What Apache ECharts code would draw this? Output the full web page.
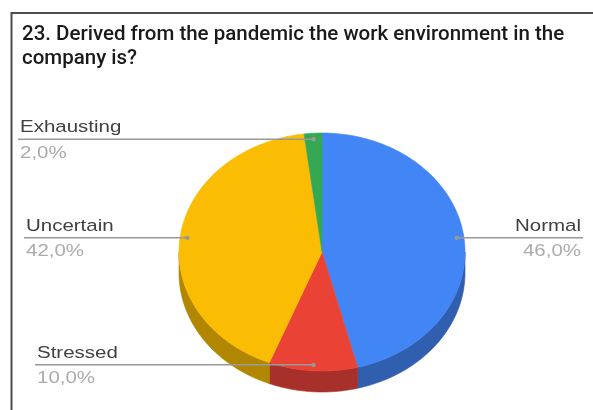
<!DOCTYPE html>
<html>
<head>
<meta charset="utf-8">
<script src="https://cdn.jsdelivr.net/npm/echarts@6/dist/echarts.min.js"></script>
<style>
  html, body { margin: 0; padding: 0; background: #fff; }
  #chart { width: 593px; height: 410px; }
</style>
</head>
<body>
<div id="chart"></div>
<script>
// Survey answers, in drawing order (clockwise from 12 o'clock)
const categories = ['Normal', 'Stressed', 'Uncertain', 'Exhausting'];
const shares = [46, 10, 42, 2];
const faceColors = ['#4285F4', '#EA4335', '#FBBC04', '#34A853'];
const sideColors = ['#2f5fae', '#a7312a', '#b18600', '#267a3c'];
const titleText = '23. Derived from the pandemic the work environment in the\ncompany is?';

// Tilted disc: centre, horizontal / vertical radius, wall height
const disc = { cx: 322, cy: 252, rx: 143, ry: 119, depth: 21 };
// Label text edges: left-hand labels start here, right-hand labels end here
const labelEdge = { Normal: 581, Stressed: 37, Uncertain: 26, Exhausting: 20 };
const labelFont = '"Liberation Sans", Arial, sans-serif';
const titleFont = 'Roboto, "Liberation Sans", Arial, sans-serif';

const total = shares.reduce((a, b) => a + b, 0);
const slices = [];
let acc = 0;
shares.forEach(v => {
  const a0 = acc / total * 2 * Math.PI;
  acc += v;
  slices.push({ a0, a1: acc / total * 2 * Math.PI });
});

// angle t measured clockwise from 12 o'clock
function pt(t, k, dy) {
  return [disc.cx + disc.rx * k * Math.sin(t), disc.cy - disc.ry * k * Math.cos(t) + (dy || 0)];
}
function arc(s, e, dy) {
  const n = Math.max(2, Math.ceil((e - s) / (Math.PI / 180)));
  const out = [];
  for (let j = 0; j <= n; j++) out.push(pt(s + (e - s) * j / n, 1, dy));
  return out;
}

function renderSlice(params, api) {
  const i = params.dataIndex;
  const { a0, a1 } = slices[i];
  const name = categories[i];
  const children = [];

  // visible front wall of the slice
  const s = Math.max(a0, Math.PI / 2), e = Math.min(a1, 1.5 * Math.PI);
  if (e > s) {
    const top = arc(s, e, 0);
    const bottom = arc(s, e, disc.depth).reverse();
    children.push({
      type: 'polygon', z2: 1,
      shape: { points: top.concat(bottom) },
      style: { fill: sideColors[i], stroke: sideColors[i], lineWidth: 0.6 }
    });
  }
  // top face
  children.push({
    type: 'polygon', z2: 5,
    shape: { points: [[disc.cx, disc.cy]].concat(arc(a0, a1, 0)) },
    style: { fill: faceColors[i], stroke: faceColors[i], lineWidth: 0.6 }
  });

  // leader line, dot and two-line label
  const mid = (a0 + a1) / 2;
  const anchor = pt(mid, 0.95, 0);
  const onRight = Math.sin(mid) > 0;
  const edge = labelEdge[name];
  const lineY = anchor[1];
  const x1 = onRight ? anchor[0] : edge - 2;
  const x2 = onRight ? edge + 2 : anchor[0];
  children.push({
    type: 'line', z2: 10,
    shape: { x1, y1: lineY, x2, y2: lineY },
    style: { stroke: '#999', lineWidth: 1.5 }
  });
  children.push({
    type: 'circle', z2: 11,
    shape: { cx: anchor[0], cy: lineY, r: 2.2 },
    style: { fill: '#999' }
  });
  const pct = (api.value(0) / total * 100).toFixed(1).replace('.', ',') + '%';
  const align = onRight ? 'right' : 'left';
  children.push({
    type: 'text', z2: 12, x: edge, y: lineY - 11.7, scaleX: 1.22,
    style: { text: name, fontSize: 16.8, fontFamily: labelFont, fill: '#404040', align, verticalAlign: 'middle' }
  });
  children.push({
    type: 'text', z2: 12, x: edge, y: lineY + 13.8, scaleX: 1.22,
    style: { text: pct, fontSize: 16.8, fontFamily: labelFont, fill: '#ababab', align, verticalAlign: 'middle' }
  });

  return { type: 'group', children };
}

const chart = echarts.init(document.getElementById('chart'), null, { renderer: 'canvas' });
chart.setOption({
  animation: false,
  backgroundColor: '#fff',
  title: {
    text: titleText,
    left: 22, top: 23, padding: 0,
    textStyle: { fontFamily: titleFont, fontSize: 20.5, fontWeight: 500, color: '#1a1a1a', lineHeight: 24 }
  },
  graphic: [{
    type: 'rect', silent: true,
    shape: { x: 11.5, y: 13, width: 700, height: 500 },
    style: { fill: 'none', stroke: '#4d4d4d', lineWidth: 2 }
  }],
  series: [{
    type: 'custom',
    coordinateSystem: 'none',
    silent: true,
    renderItem: renderSlice,
    data: shares.map((v, i) => ({ name: categories[i], value: v }))
  }]
});
</script>
</body>
</html>
